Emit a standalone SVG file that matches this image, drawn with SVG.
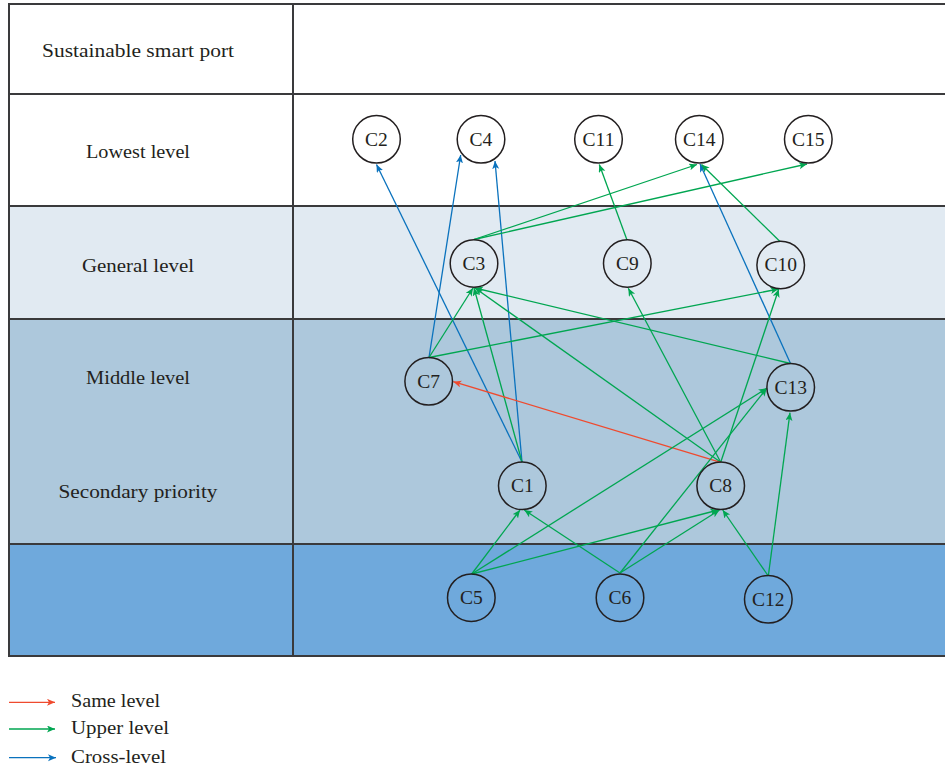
<svg xmlns="http://www.w3.org/2000/svg" width="945" height="769" viewBox="0 0 945 769">
<defs>
<style>
.lbl{font-family:"Liberation Serif","DejaVu Serif",serif;font-size:19.5px;fill:#231f20;text-anchor:middle}
.leg{font-family:"Liberation Serif","DejaVu Serif",serif;font-size:19.5px;fill:#231f20}
.nd circle{fill:none;stroke:#231f20;stroke-width:1.5}
.nd text{font-family:"Liberation Serif","DejaVu Serif",serif;font-size:19.5px;fill:#231f20;text-anchor:middle}
.tl{stroke:#3a3a3c;stroke-width:2;fill:none}
.r{stroke:#ef4a2e;stroke-width:1.3;fill:none;marker-end:url(#ar)}
.g{stroke:#00a651;stroke-width:1.3;fill:none;marker-end:url(#ag)}
.b{stroke:#0a72bd;stroke-width:1.3;fill:none;marker-end:url(#ab)}
</style>
<marker id="ar" markerUnits="userSpaceOnUse" markerWidth="10" markerHeight="8" refX="8" refY="3.5" orient="auto"><path d="M0,0 L8,3.5 L0,7 L2,3.5 z" fill="#ef4a2e"/></marker>
<marker id="ag" markerUnits="userSpaceOnUse" markerWidth="10" markerHeight="8" refX="8" refY="3.5" orient="auto"><path d="M0,0 L8,3.5 L0,7 L2,3.5 z" fill="#00a651"/></marker>
<marker id="ab" markerUnits="userSpaceOnUse" markerWidth="10" markerHeight="8" refX="8" refY="3.5" orient="auto"><path d="M0,0 L8,3.5 L0,7 L2,3.5 z" fill="#0a72bd"/></marker>
</defs>
<rect width="945" height="769" fill="#ffffff"/>
<g id="table">
<rect x="9" y="206" width="936" height="113" fill="#e1eaf2"/>
<rect x="9" y="319" width="936" height="225" fill="#adc8dc"/>
<rect x="9" y="544" width="936" height="112" fill="#6fa9dc"/>
<line class="tl" x1="9" y1="4" x2="945" y2="4"/>
<line class="tl" x1="9" y1="94" x2="945" y2="94"/>
<line class="tl" x1="9" y1="206" x2="945" y2="206"/>
<line class="tl" x1="9" y1="319" x2="945" y2="319"/>
<line class="tl" x1="9" y1="544" x2="945" y2="544"/>
<line class="tl" x1="9" y1="656" x2="945" y2="656"/>
<line class="tl" x1="9" y1="3" x2="9" y2="657"/>
<line class="tl" x1="293" y1="3" x2="293" y2="657"/>
<text class="lbl" x="138" y="57" textLength="192" lengthAdjust="spacingAndGlyphs">Sustainable smart port</text>
<text class="lbl" x="138" y="158" textLength="104" lengthAdjust="spacingAndGlyphs">Lowest level</text>
<text class="lbl" x="138" y="272" textLength="112" lengthAdjust="spacingAndGlyphs">General level</text>
<text class="lbl" x="138" y="384" textLength="104" lengthAdjust="spacingAndGlyphs">Middle level</text>
<text class="lbl" x="138" y="498" textLength="159" lengthAdjust="spacingAndGlyphs">Secondary priority</text>
</g>
<g id="connectors">
<line class="b" x1="522" y1="462" x2="376.5" y2="164.5"/>
<line class="b" x1="429" y1="357.5" x2="460.7" y2="155"/>
<line class="b" x1="522" y1="462" x2="495" y2="161"/>
<line class="b" x1="790.5" y1="363.5" x2="700" y2="164"/>
<line class="g" x1="627" y1="240" x2="599.3" y2="164.5"/>
<line class="g" x1="474" y1="239.5" x2="697" y2="164.5"/>
<line class="g" x1="474" y1="239.5" x2="807" y2="164"/>
<line class="g" x1="780" y1="241.5" x2="701.5" y2="164.5"/>
<line class="g" x1="429" y1="357.5" x2="473" y2="288"/>
<line class="g" x1="429" y1="357.5" x2="778.5" y2="289"/>
<line class="g" x1="522" y1="462" x2="474" y2="288"/>
<line class="g" x1="720.7" y1="462.3" x2="475" y2="288"/>
<line class="g" x1="790.5" y1="363.5" x2="475" y2="288"/>
<line class="g" x1="720.7" y1="462.3" x2="628.3" y2="288.3"/>
<line class="g" x1="720.7" y1="462.3" x2="778.7" y2="289.3"/>
<line class="r" x1="720.7" y1="462.3" x2="453.3" y2="381.7"/>
<line class="g" x1="471.7" y1="574" x2="520" y2="510"/>
<line class="g" x1="620" y1="573" x2="524.3" y2="510"/>
<line class="g" x1="471.7" y1="574" x2="766.7" y2="388.3"/>
<line class="g" x1="471.7" y1="574" x2="718.3" y2="510"/>
<line class="g" x1="620" y1="573" x2="766.7" y2="388.3"/>
<line class="g" x1="620" y1="573" x2="719.5" y2="510"/>
<line class="g" x1="768.3" y1="576" x2="722.7" y2="510"/>
<line class="g" x1="768.3" y1="576" x2="790" y2="412.7"/>
</g>
<g id="C2" class="nd"><circle cx="376.5" cy="139.3" r="23.8"/><text x="376.5" y="145.5">C2</text></g>
<g id="C4" class="nd"><circle cx="481" cy="139.3" r="23.8"/><text x="481" y="145.5">C4</text></g>
<g id="C11" class="nd"><circle cx="598.5" cy="139.3" r="23.8"/><text x="598.5" y="145.5">C11</text></g>
<g id="C14" class="nd"><circle cx="699.3" cy="139.3" r="23.8"/><text x="699.3" y="145.5">C14</text></g>
<g id="C15" class="nd"><circle cx="808.3" cy="139.3" r="23.8"/><text x="808.3" y="145.5">C15</text></g>
<g id="C3" class="nd"><circle cx="474" cy="263.5" r="23.8"/><text x="474" y="269.7">C3</text></g>
<g id="C9" class="nd"><circle cx="627.3" cy="263.5" r="23.8"/><text x="627.3" y="269.7">C9</text></g>
<g id="C10" class="nd"><circle cx="780.7" cy="265" r="23.8"/><text x="780.7" y="271.2">C10</text></g>
<g id="C7" class="nd"><circle cx="428.7" cy="381.3" r="23.8"/><text x="428.7" y="387.5">C7</text></g>
<g id="C13" class="nd"><circle cx="790.7" cy="387.3" r="23.8"/><text x="790.7" y="393.5">C13</text></g>
<g id="C1" class="nd"><circle cx="522.3" cy="485.8" r="23.8"/><text x="522.3" y="492">C1</text></g>
<g id="C8" class="nd"><circle cx="720.7" cy="485.8" r="23.8"/><text x="720.7" y="492">C8</text></g>
<g id="C5" class="nd"><circle cx="471.3" cy="597.7" r="23.8"/><text x="471.3" y="603.9">C5</text></g>
<g id="C6" class="nd"><circle cx="620" cy="597.7" r="23.8"/><text x="620" y="603.9">C6</text></g>
<g id="C12" class="nd"><circle cx="768.3" cy="599.3" r="23.8"/><text x="768.3" y="605.5">C12</text></g>
<g id="legend">
<line class="r" x1="9" y1="702.3" x2="55" y2="702.3"/>
<line class="g" x1="9" y1="729" x2="55" y2="729"/>
<line class="b" x1="9" y1="757.7" x2="56" y2="757.7"/>
<text class="leg" x="71" y="707" textLength="89" lengthAdjust="spacingAndGlyphs">Same level</text>
<text class="leg" x="71" y="734" textLength="98" lengthAdjust="spacingAndGlyphs">Upper level</text>
<text class="leg" x="71" y="762.7" textLength="95" lengthAdjust="spacingAndGlyphs">Cross-level</text>
</g>
</svg>
